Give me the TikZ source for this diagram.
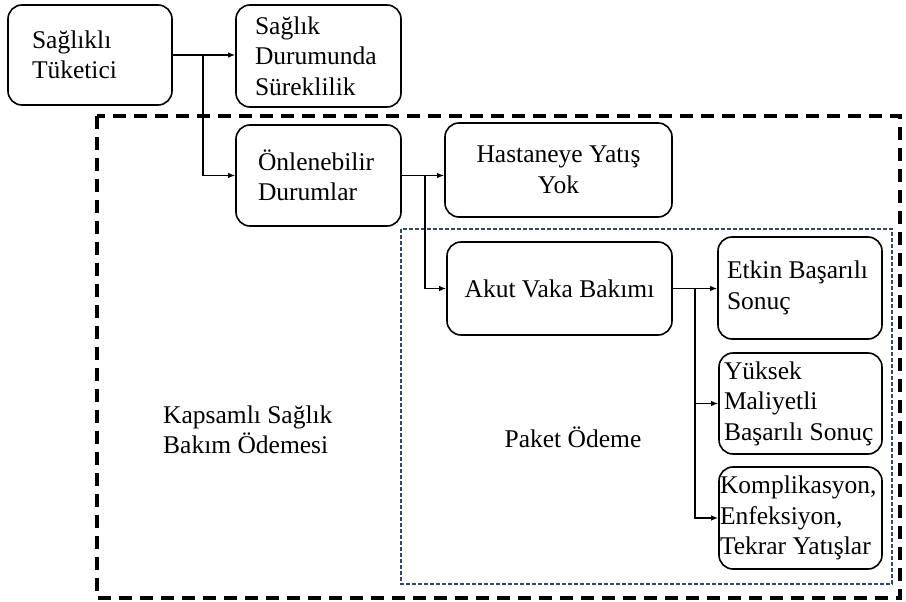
\documentclass[tikz,border=0pt]{standalone}
\usepackage{fontspec}
\setmainfont{Liberation Serif}
\usetikzlibrary{arrows.meta}
\definecolor{paketmavi}{RGB}{47,72,110}

\begin{document}
\begin{tikzpicture}[x=1pt, y=-1pt, >={Latex[length=7pt,width=5.5pt]},
  kutu/.style={draw, line width=1.6pt, rounded corners=14pt, inner sep=0pt, font=\fontsize{25.5}{30.5}\selectfont},
  etiket/.style={inner sep=0pt, font=\fontsize{25.5}{30.5}\selectfont, align=flush left},
  ok/.style={->, line width=1.4pt}]

\useasboundingbox (0,0) rectangle (906,602);

% frames
\draw[line width=4pt, dash pattern=on 13pt off 8pt] (97,116) rectangle (900,598);
\draw[paketmavi, line width=1.5pt, dash pattern=on 4pt off 2pt] (401,229) rectangle (892,584);

\node[kutu, minimum width=164, minimum height=100, text width=116, align=flush left] at (90,55) (st) {Sağlıklı\\Tüketici};
\node[kutu, minimum width=165, minimum height=102, text width=127, align=flush left] at (318.5,56) (sd) {Sağlık\\Durumunda\\Süreklilik};
\node[kutu, minimum width=165, minimum height=101, text width=121, align=flush left] at (318.5,175.5) (ol) {Önlenebilir\\Durumlar};
\node[kutu, minimum width=227, minimum height=94, align=flush center] at (558.5,170) (hy) {Hastaneye Yatış\\Yok};
\node[kutu, minimum width=225, minimum height=93] at (559.5,288.5) (av) {Akut Vaka Bakımı};

\node[kutu, minimum width=164, minimum height=102, text width=146, align=flush left] at (800,288) (eb) {Etkin Başarılı\\Sonuç};
\node[kutu, minimum width=163, minimum height=101, text width=153, align=flush left] at (800.5,403.5) (ym) {Yüksek\\Maliyetli\\Başarılı Sonuç};
\node[kutu, minimum width=163, minimum height=102, text width=161, align=flush left] at (800.5,518) (ke) {Komplikasyon,\\Enfeksiyon,\\Tekrar Yatışlar};

\node[etiket, anchor=west] at (163,430) (ks) {Kapsamlı Sağlık\\Bakım Ödemesi};
\node[etiket] at (573,437) (po) {Paket Ödeme};

% connectors
\coordinate (j1) at (203,55);
\coordinate (j2) at (425,175.5);
\coordinate (j3) at (695,288);

\draw[ok] (st.east) -- (st.east -| sd.west);
\draw[ok] (j1) |- (ol.west);
\draw[ok] (ol.east) -- (ol.east -| hy.west);
\draw[ok] (j2) |- (av.west);
\draw[ok] (av.east) -- (av.east -| eb.west);
\draw[ok] (j3) |- (ym.west);
\draw[ok] (j3) |- (ke.west);

\end{tikzpicture}
\end{document}
